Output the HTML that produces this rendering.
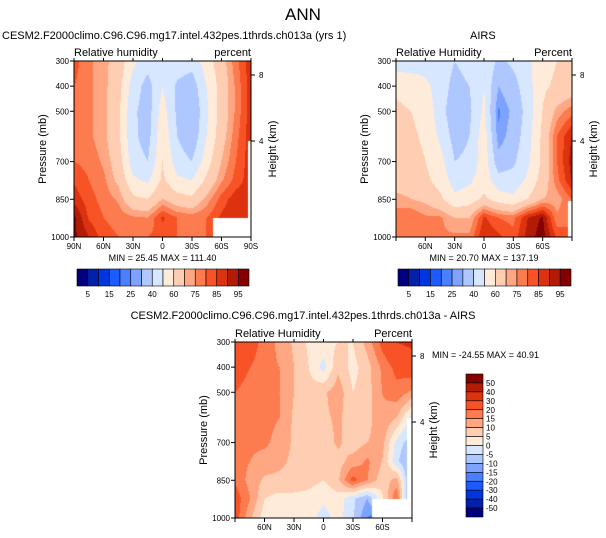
<!DOCTYPE html>
<html><head><meta charset="utf-8">
<style>
body{margin:0;background:#fff;width:606px;height:538px;position:relative;overflow:hidden;font-family:"Liberation Sans",sans-serif;color:#000}
.t{position:absolute;white-space:nowrap}
canvas{position:absolute}
svg{position:absolute;left:0;top:0}
</style></head><body>
<div class="t" style="left:0;width:606px;text-align:center;top:5px;font-size:17px">ANN</div>
<div class="t" style="left:2px;top:30px;font-size:11px">CESM2.F2000climo.C96.C96.mg17.intel.432pes.1thrds.ch013a (yrs 1)</div>
<div class="t" style="left:470px;top:30px;font-size:11px">AIRS</div>
<div class="t" style="left:0;width:606px;text-align:center;top:310px;font-size:11px">CESM2.F2000climo.C96.C96.mg17.intel.432pes.1thrds.ch013a - AIRS</div>
<canvas id="c1" width="177" height="176" style="left:74px;top:61px"></canvas>
<canvas id="c2" width="176" height="176" style="left:396px;top:61px"></canvas>
<canvas id="c3" width="177" height="176" style="left:235px;top:342px"></canvas>
<svg id="ov" width="606" height="538"></svg>
<script>
const lats=["90N","75N","60N","45N","30N","15N","0","15S","30S","45S","60S","75S","90S"];
const levels=[300,400,500,600,700,775,850,925,1000];
const colors=["#00007f","#0021a8","#0036e0","#1c5cff","#4a80ff","#7ea3ff","#afc7ff","#d7e7ff","#ffebd9","#ffcdb2","#ffa783","#fc7b4f","#f75326","#dc320f","#b21c07","#850000"];
const rhBounds=[5,10,15,20,25,30,40,50,60,70,75,80,85,90,95];
const rhLabels=["5","15","25","40","60","75","85","95"];
const diffBounds=[-50,-40,-30,-20,-15,-10,-5,0,5,10,15,20,30,40,50];
const diffLabels=["50","40","30","20","15","10","5","0","-5","-10","-15","-20","-30","-40","-50"];
const modelRH=[
[82,76,72,66,52,44,48,46,44,55,66,78,88],
[80,76,72,64,45,36,50,38,34,50,64,76,88],
[80,76,72,62,42,35,55,38,30,48,64,76,88],
[80,76,72,62,42,36,58,40,32,50,66,78,88],
[80,78,74,65,44,40,60,45,40,55,70,80,88],
[84,80,76,68,52,48,62,52,50,62,74,82,88],
[88,82,78,74,62,60,70,64,62,72,82,88,88],
[96,84,80,78,76,75,86,80,78,80,86,90,88],
[96,90,82,80,78,80,82,80,78,80,84,84,84]];
const airsRH=[
[44,45,46,46,40,44,48,38,42,48,56,60,60],
[58,56,52,46,36,40,50,30,36,46,58,62,64],
[62,60,56,45,32,38,52,24,32,44,60,72,78],
[64,62,58,48,36,40,56,26,34,46,62,80,90],
[64,64,60,54,40,42,56,34,38,48,62,80,92],
[66,66,62,56,46,48,56,44,44,52,64,78,90],
[72,70,68,62,52,55,62,55,52,60,70,72,80],
[78,80,76,76,70,70,86,80,78,90,96,76,80],
[76,78,80,76,76,76,90,86,82,92,98,84,80]];
const diffRH=[
[28,24,17,14,9,4,3,5,5,12,22,30,32],
[24,20,16,15,10,5,-2,9,3,8,16,22,24],
[20,17,15,15,10,7,9,13,5,8,15,18,14],
[18,16,17,15,9,7,9,11,7,8,14,10,-2],
[17,16,16,13,9,7,7,11,7,10,12,-2,-8],
[17,15,13,11,9,7,7,8,12,16,10,-4,-12],
[19,13,9,9,9,7,5,9,22,15,7,12,-15],
[23,15,5,3,3,3,1,3,-4,-10,4,20,-20],
[23,11,2,2,0,2,-2,2,-4,-15,-20,10,-20]];

function val(grid,fx,py){
  let r=0;while(r<levels.length-2&&py>levels[r+1])r++;
  const ty=Math.min(1,Math.max(0,(py-levels[r])/(levels[r+1]-levels[r])));
  const c=Math.min(11,Math.floor(fx)),tx=fx-c;
  const a=grid[r][c]*(1-tx)+grid[r][c+1]*tx;
  const b=grid[r+1][c]*(1-tx)+grid[r+1][c+1]*tx;
  return a*(1-ty)+b*ty;
}
function bin(v,b){let i=0;while(i<b.length&&v>=b[i])i++;return i;}
function draw(id,grid,bounds,missing){
  const cv=document.getElementById(id),ctx=cv.getContext('2d');
  const W=cv.width,H=cv.height;
  for(let y=0;y<H;y++)for(let x=0;x<W;x++){
    const v=val(grid,x/(W-1)*12,300+700*y/(H-1));
    ctx.fillStyle=colors[bin(v,bounds)];ctx.fillRect(x,y,1,1);
  }
  ctx.fillStyle="#fff";
  missing.forEach(m=>ctx.fillRect(m[0],m[1],m[2],m[3]));
}
draw('c1',modelRH,rhBounds,[[139,157,38,19],[174,80,3,96]]);
draw('c2',airsRH,rhBounds,[[172,140,4,36]]);
draw('c3',diffRH,diffBounds,[[137,157,40,19],[172,76,5,100]]);

const NS="http://www.w3.org/2000/svg";const ov=document.getElementById('ov');
function el(tag,attrs,txt){const e=document.createElementNS(NS,tag);for(const k in attrs)e.setAttribute(k,attrs[k]);if(txt!==undefined)e.textContent=txt;ov.appendChild(e);return e;}
const pLabels=[300,400,500,700,850,1000];
function panel(x0,y0,w,h,name,left,right,xlabs,minmax){
  let e=el('rect',{x:x0,y:y0,width:w,height:h,fill:'none',stroke:'#000','stroke-width':1});
  
  pLabels.forEach(p=>{const y=y0+(p-300)/700*h;
    el('line',{x1:x0-4,x2:x0,y1:y,y2:y,stroke:'#000'});
    const t=el('text',{x:x0-5,y:y+3,'font-size':8,'text-anchor':'end'},p);
    });
  [[8,y0+14],[4,y0+80]].forEach(k=>{el('line',{x1:x0+w,x2:x0+w+4,y1:k[1],y2:k[1],stroke:'#000'});
    const t=el('text',{x:x0+w+8,y:k[1]+3,'font-size':8},k[0]);
    });
  let t=el('text',{x:x0-28,y:y0+h/2,'font-size':11,'text-anchor':'middle',transform:`rotate(-90 ${x0-28} ${y0+h/2})`},'Pressure (mb)');
  
  t=el('text',{x:x0+w+25,y:y0+h/2,'font-size':11,'text-anchor':'middle',transform:`rotate(-90 ${x0+w+25} ${y0+h/2})`},'Height (km)');
  
  t=el('text',{x:x0,y:y0-5,'font-size':11},left);
  t=el('text',{x:x0+w,y:y0-5,'font-size':11,'text-anchor':'end'},right);
  lats.forEach((l,i)=>{const x=x0+i*w/12;
    if(i%2==0){el('line',{x1:x,x2:x,y1:y0+h,y2:y0+h+4,stroke:'#000'});el('line',{x1:x,x2:x,y1:y0,y2:y0-3,stroke:'#000'});}
    if(i%2==0&&xlabs.includes(l)){const t=el('text',{x:x,y:y0+h+12,'font-size':8,'text-anchor':'middle'},l);
      }});
  if(minmax){t=el('text',{x:x0+w/2,y:y0+h+24,'font-size':9,'text-anchor':'middle'},minmax);}
}
panel(74,61,177,176,'model','Relative humidity','percent',["90N","60N","30N","0","30S","60S","90S"],'MIN =  25.45  MAX = 111.40');
panel(396,61,176,176,'obs','Relative Humidity','Percent',["60N","30N","0","30S","60S"],'MIN =  20.70  MAX = 137.19');
panel(235,342,177,176,'diff','Relative Humidity','Percent',["60N","30N","0","30S","60S"],null);
let mm=el('text',{x:432,y:358,'font-size':9},'MIN = -24.55  MAX =  40.91');

function hbar(x0,y0,w,h,name){
  const bw=w/16;
  colors.forEach((c,i)=>{const r=el('rect',{x:x0+i*bw,y:y0,width:bw,height:h,fill:c,stroke:'#000','stroke-width':0.6});
    });
  rhLabels.forEach((l,k)=>{const t=el('text',{x:x0+(2*k+1)*bw,y:y0+h+11,'font-size':8,'text-anchor':'middle'},l);
    });
}
hbar(77,269,172,17,'model-colorbar');
hbar(398,269,173,17,'obs-colorbar');
const vbx=466,vby=374,vbw=17,vbh=143,bh=vbh/16;
colors.slice().reverse().forEach((c,i)=>{const r=el('rect',{x:vbx,y:vby+i*bh,width:vbw,height:bh,fill:c,stroke:'#000','stroke-width':0.6});
  });
diffLabels.forEach((l,i)=>{const t=el('text',{x:vbx+vbw+3,y:vby+(i+1)*bh+3,'font-size':8},l);
  });
</script>
</body></html>
